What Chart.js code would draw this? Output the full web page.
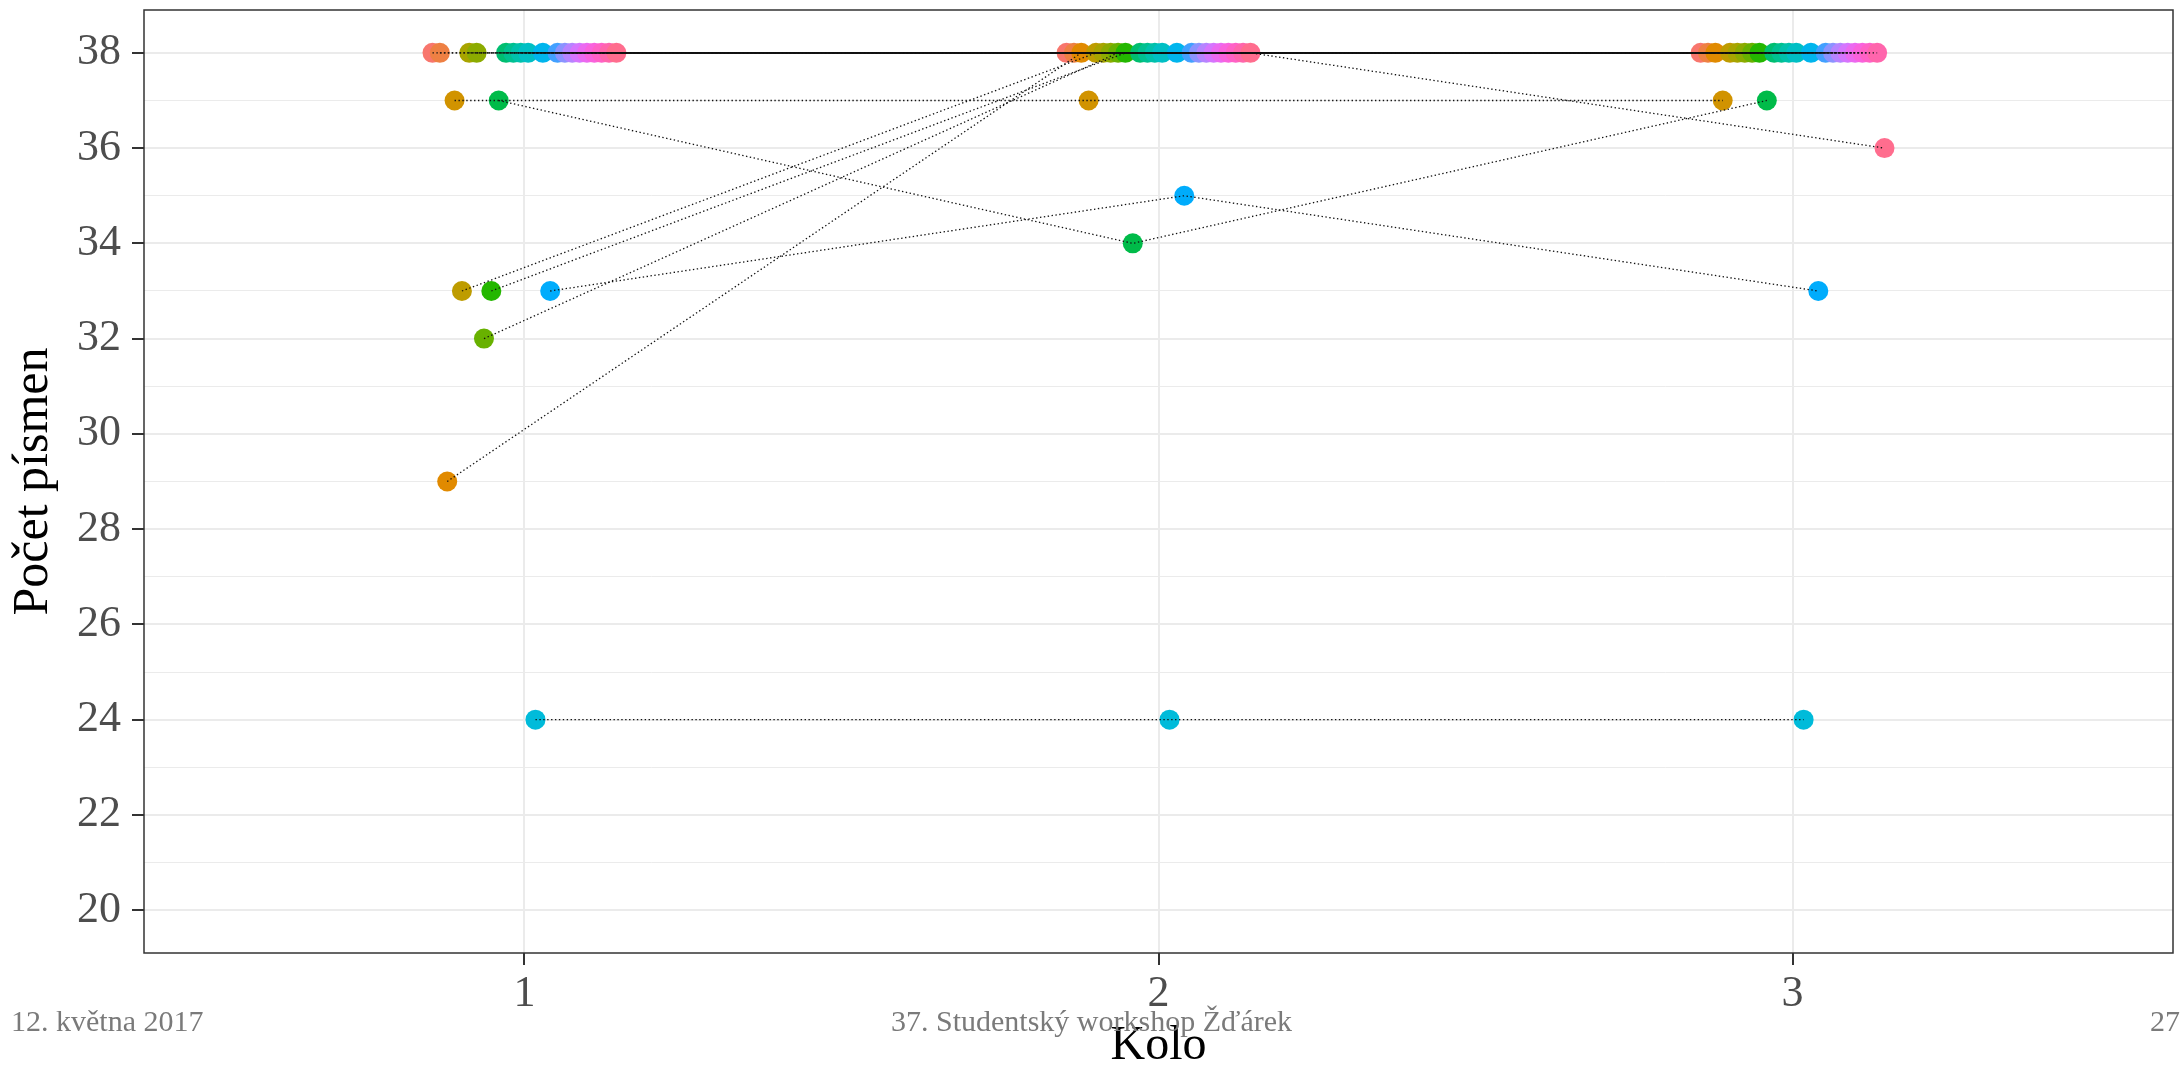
<!DOCTYPE html>
<html>
<head>
<meta charset="utf-8">
<script src="https://cdn.jsdelivr.net/npm/chart.js@4.4.1/dist/chart.umd.min.js"></script>
<style>
  html, body { margin: 0; padding: 0; background: #fff; }
  #wrap { position: relative; width: 2183px; height: 1067px; }
  canvas { position: absolute; left: 0; top: 0; }
  .pata { position: absolute; top: 1006px; font-family: "Liberation Serif", serif; font-size: 30px; line-height: 30px; color: #7a7a7a; white-space: nowrap; }
</style>
</head>
<body>
<div id="wrap">
  <canvas id="graf" width="2183" height="1067"></canvas>
  <div class="pata" style="left:11px">12. května 2017</div>
  <div class="pata" style="left:891px">37. Studentský workshop Žďárek</div>
  <div class="pata" style="right:3px">27</div>
</div>
<script>
// -------------------------
// DATA (pocet pismen po kolech, 26 soutezicich)
// -------------------------
const kola = [1, 2, 3];
const kolo1 = [38, 38, 29, 37, 33, 38, 38, 32, 33, 37, 38, 38, 38, 38, 24, 38, 33, 38, 38, 38, 38, 38, 38, 38, 38, 38];
const kolo2 = [38, 38, 38, 37, 38, 38, 38, 38, 38, 34, 38, 38, 38, 38, 24, 38, 35, 38, 38, 38, 38, 38, 38, 38, 38, 38];
const kolo3 = [38, 38, 38, 37, 38, 38, 38, 38, 38, 37, 38, 38, 38, 38, 24, 38, 33, 38, 38, 38, 38, 38, 38, 38, 38, 36];
const yTicks = [20, 22, 24, 26, 28, 30, 32, 34, 36, 38];

// -------------------------
// BARVY (ggplot hue_pal, hcl c=100 l=65)
// -------------------------
function hcl(h, c, l) {
    const rad = h * Math.PI / 180;
    const U = c * Math.cos(rad), V = c * Math.sin(rad);
    const Xn = 0.95047, Yn = 1, Zn = 1.08883;
    const den = Xn + 15 * Yn + 3 * Zn;
    const un = 4 * Xn / den, vn = 9 * Yn / den;
    const Y = l > 8 ? Math.pow((l + 16) / 116, 3) : l / 903.3;
    const u = U / (13 * l) + un, v = V / (13 * l) + vn;
    const X = Y * 9 * u / (4 * v);
    const Z = Y * (12 - 3 * u - 20 * v) / (4 * v);
    const lin = [
        3.240479 * X - 1.537150 * Y - 0.498535 * Z,
        -0.969256 * X + 1.875992 * Y + 0.041556 * Z,
        0.055648 * X - 0.204043 * Y + 1.057311 * Z
    ];
    const rgb = lin.map(t => {
        t = Math.min(1, Math.max(0, t));
        t = t <= 0.0031308 ? 12.92 * t : 1.055 * Math.pow(t, 1 / 2.4) - 0.055;
        return Math.round(Math.min(1, Math.max(0, t)) * 255);
    });
    return "rgb(" + rgb.join(",") + ")";
}

const n = kolo1.length;
const posun = i => -0.145 + 0.29 * i / (n - 1);   // dodge podle poradi
const barvy = kolo1.map((_, i) => hcl(15 + 360 * i / n, 100, 65));
const vsechnaKola = [kolo1, kolo2, kolo3];

// body: kolo po kole, vyssi index kresleny navrch
const body = [];
const bodyBarvy = [];
vsechnaKola.forEach((vals, r) => {
    vals.forEach((v, i) => {
        body.push({ x: kola[r] + posun(i), y: v });
        bodyBarvy.push(barvy[i]);
    });
});

// teckovane cary pro kazdeho souteziciho
const cary = kolo1.map((_, i) => ({
    data: vsechnaKola.map((vals, r) => ({ x: kola[r] + posun(i), y: vals[i] })),
    showLine: true,
    borderColor: "#111111",
    borderWidth: 1.3,
    borderDash: [1.4, 2.5],
    pointRadius: 0,
    pointHoverRadius: 0,
    fill: false,
    order: 0
}));

const vsechnyY = [];
for (let v = yTicks[0]; v <= yTicks[yTicks.length - 1]; v++) vsechnyY.push(v);

// ramecek panelu
const ramecek = {
    id: "ramecek",
    afterDatasetsDraw(chart) {
        const { ctx, chartArea: a } = chart;
        ctx.save();
        ctx.strokeStyle = "#333333";
        ctx.lineWidth = 1.5;
        ctx.strokeRect(a.left, a.top, a.right - a.left, a.bottom - a.top);
        ctx.restore();
    }
};

const pismo = "'Liberation Serif', serif";

new Chart(document.getElementById("graf").getContext("2d"), {
    type: "scatter",
    data: {
        datasets: [
            {
                data: body,
                pointBackgroundColor: bodyBarvy,
                pointBorderWidth: 0,
                pointRadius: 10,
                pointHoverRadius: 10,
                order: 1
            },
            ...cary
        ]
    },
    options: {
        responsive: false,
        animation: false,
        devicePixelRatio: 1,
        layout: { padding: { left: 0, top: 7, right: 5, bottom: 0 } },
        plugins: { legend: { display: false }, tooltip: { enabled: false } },
        scales: {
            x: {
                type: "linear",
                min: 0.4,
                max: 3.6,
                afterBuildTicks: s => { s.ticks = kola.map(v => ({ value: v })); },
                afterFit: s => { s.height = 114; s.paddingLeft = 0; s.paddingRight = 0; },
                border: { display: false },
                grid: { color: "#ebebeb", lineWidth: 2, tickColor: "#333333", tickLength: 12, tickWidth: 2 },
                ticks: {
                    autoSkip: false, maxRotation: 0, minRotation: 0, padding: 3,
                    color: "#4d4d4d", font: { family: pismo, size: 44 },
                    callback: v => String(v)
                },
                title: {
                    display: true, text: "Kolo", color: "#000",
                    font: { family: pismo, size: 48, lineHeight: 0.8 },
                    padding: { top: 0, bottom: 1 }
                }
            },
            y: {
                min: 19.1,
                max: 38.9,
                afterBuildTicks: s => { s.ticks = vsechnyY.map(v => ({ value: v })); },
                afterFit: s => { s.width = 144; s.paddingTop = 0; s.paddingBottom = 0; },
                border: { display: false },
                grid: {
                    color: "#ebebeb",
                    lineWidth: c => yTicks.includes(c.tick.value) ? 2 : 1,
                    tickColor: c => yTicks.includes(c.tick.value) ? "#333333" : "rgba(0,0,0,0)",
                    tickLength: 12,
                    tickWidth: 2
                },
                ticks: {
                    autoSkip: false, padding: 11,
                    color: "#4d4d4d", font: { family: pismo, size: 44 },
                    callback: v => yTicks.includes(v) ? String(v) : ""
                },
                title: {
                    display: true, text: "Počet písmen", color: "#000",
                    font: { family: pismo, size: 50, lineHeight: 0.8 },
                    padding: { top: 14, bottom: 0 }
                }
            }
        }
    },
    plugins: [ramecek]
});
</script>
</body>
</html>
